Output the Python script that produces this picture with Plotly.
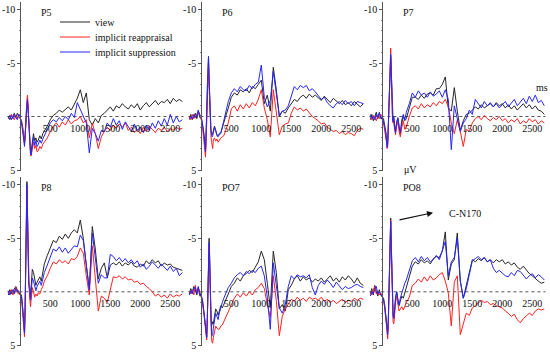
import plotly.graph_objects as go

# time points (ms)
T = [-200, -175, -150, -125, -100, -75, -50, -25, 0,
     20, 40, 60, 70, 80, 90, 100, 110, 120, 130, 140, 150, 160, 170, 180, 190, 200,
     220, 240, 260, 280, 300, 325, 350, 375, 400,
     450, 500, 550, 600, 650, 700, 750, 800, 850, 900,
     950, 1000, 1050, 1100, 1150, 1200, 1250, 1300, 1350, 1400,
     1450, 1500, 1550, 1600, 1650, 1700, 1750, 1800, 1850, 1900,
     1950, 2000, 2050, 2100, 2150, 2200, 2250, 2300, 2350, 2400,
     2450, 2500, 2550, 2600, 2650, 2700]

CONDITIONS = ["view", "implicit reappraisal", "implicit suppression"]
ELECTRODES = ["P5", "P6", "P7", "P8", "PO7", "PO8"]
X_TICKS = [500, 1000, 1500, 2000, 2500]
Y_TICKS = [-10, -5, 5]
Y_TICK_TEXT = ["-10", "-5", "5"]

# ---- P5 ----
P5_view = [0.2, -0.1, 0.3, 0.0, -0.3, 0.1, -0.3, 0.0, 0.2,
           0.4, 1.0, 2.0, 2.5, 1.8, 0.6, -0.5, -1.2, -1.5, -0.8, 0.6, 1.8, 2.7, 3.2, 3.3, 2.9, 2.3,
           1.6, 2.3, 2.0, 2.4, 2.2, 1.8, 2.1, 1.6, 1.4,
           0.9, 0.3, -0.1, -0.3, -0.6, -0.4, -0.7, -0.9, -0.6, -1.1,
           -1.7, -2.5, -1.3, -2.2, 0.3, 0.8, 0.2, 0.6, -0.1, -0.3,
           -0.6, -0.9, -0.5, -1.0, -0.8, -1.2, -0.9, -0.7, -1.1, -0.8,
           -1.2, -0.6, -1.0, -1.3, -0.9, -1.2, -1.5, -1.1, -1.4, -1.3,
           -1.6, -1.2, -1.7, -1.4, -1.6, -1.4]
P5_reapp = [0.1, 0.2, -0.2, 0.1, 0.3, -0.1, 0.2, -0.2, 0.1,
            0.5, 1.1, 2.0, 2.6, 2.0, 0.4, -0.8, -1.6, -2.0, -1.0, 0.8, 2.0, 3.0, 3.5, 3.7, 3.3, 2.8,
            2.4, 3.0, 2.7, 3.3, 3.2, 2.8, 3.0, 2.6, 2.4,
            2.0, 1.4, 0.9, 0.6, 1.0, 0.5, 0.8, 0.3, 0.7, 0.4,
            0.3, 0.0, 0.6, 0.3, 2.0, 0.6, 1.6, 3.0, 1.9, 1.4,
            1.0, 1.3, 0.8, 1.1, 0.7, 1.0, 0.6, 1.3, 1.0, 1.5,
            1.2, 1.6, 1.0, 1.4, 0.9, 1.2, 1.5, 1.1, 1.3, 1.0,
            1.4, 1.1, 1.3, 1.0, 1.2, 1.1]
P5_supp = [0.0, 0.3, -0.1, 0.2, -0.2, 0.1, 0.3, -0.2, 0.1,
           0.6, 1.3, 2.3, 2.8, 2.1, 0.7, -0.4, -1.1, -1.6, -0.7, 0.8, 2.0, 3.0, 3.5, 3.6, 3.1, 2.6,
           1.9, 2.7, 2.3, 2.8, 2.6, 2.2, 2.5, 2.1, 1.8,
           1.3, 0.6, 0.3, 0.5, 0.1, 0.4, 0.0, 0.3, -0.3, 0.1,
           -1.3, -0.7, -0.1, 0.6, 3.4, 1.1, 1.6, 2.3, 1.3, 1.4,
           0.6, 1.0, 0.2, 0.8, 0.4, 1.2, 0.5, 0.9, 1.4, 0.7,
           1.3, 1.0, 1.5, 0.8, 1.3, 0.6, 1.1, 0.4, 0.9, 0.2,
           0.8, -0.2, 0.6, 0.0, 0.5, 0.3]

# ---- P6 ----
P6_view = [0.2, -0.2, 0.3, 0.0, -0.3, 0.2, -0.5, -0.2, 0.2,
           0.8, 1.5, 2.5, 3.3, 2.0, -0.5, -2.8, -4.6, -5.6, -3.5, -0.8, 0.6, 1.3, 1.5, 1.7, 1.6, 1.2,
           0.9, 1.3, 1.7, 1.8, 1.6, 1.5, 1.1, 0.5, 0.1,
           -0.8, -1.8, -2.2, -2.0, -2.5, -2.3, -2.6, -2.2, -2.8, -2.6,
           -3.0, -3.4, -1.2, -2.0, -0.5, -4.6, -2.5, 0.0, -0.5, -0.3,
           -0.8, -1.2, -1.6, -1.4, -1.8, -2.0, -1.7, -2.1, -1.8, -2.0,
           -1.7, -1.5, -1.9, -1.6, -1.3, -1.7, -1.4, -1.2, -1.5, -1.1,
           -1.3, -1.0, -1.4, -1.1, -0.9, -1.2]
P6_reapp = [0.0, 0.3, -0.2, 0.2, 0.0, -0.2, -0.4, 0.0, 0.3,
            1.0, 1.9, 3.0, 3.8, 2.4, 0.0, -2.4, -4.2, -5.0, -3.0, -0.5, 1.0, 1.8, 2.3, 2.8, 3.0, 2.2,
            2.0, 2.3, 2.1, 2.4, 2.2, 2.0, 1.9, 1.8, 1.4,
            0.6, -0.7, -1.0, -0.5, -1.1, -0.7, -1.2, -0.8, -1.3, -1.0,
            -1.6, -2.5, -0.8, 0.3, 1.9, -2.5, -0.6, 1.7, 0.9, 0.7,
            0.6, -0.3, -0.9, -0.6, -0.8, -0.5, -0.7, -0.3, 0.0, 0.2,
            0.4, 0.7, 0.6, 1.0, 1.2, 1.4, 1.3, 1.6, 1.4, 1.7,
            1.5, 1.6, 1.8, 1.3, 1.1, 1.2]
P6_supp = [0.3, 0.0, 0.2, -0.2, 0.1, -0.1, -0.6, 0.1, 0.0,
           0.7, 1.4, 2.6, 3.3, 1.8, -0.6, -3.0, -4.8, -5.6, -3.6, -1.0, 0.5, 1.2, 1.6, 1.9, 1.8, 1.4,
           1.0, 1.3, 1.8, 1.9, 1.7, 1.6, 1.0, 0.3, -0.1,
           -1.4, -2.2, -2.6, -2.3, -2.8, -2.5, -2.4, -2.9, -2.6, -3.0,
           -3.2, -4.8, -1.8, -0.9, -1.5, -4.2, -2.0, -0.1, -0.5, -0.6,
           -1.0, -1.8, -2.8, -2.5, -2.9, -2.7, -2.9, -2.4, -2.6, -2.3,
           -2.0, -1.6, -1.8, -1.3, -1.0, -0.8, -1.2, -1.4, -1.1, -1.5,
           -1.2, -1.4, -1.0, -1.4, -1.3, -1.2]

# ---- P7 ----
P7_view = [0.3, -0.2, 0.4, 0.0, -0.4, 0.2, -0.3, 0.1, 0.3,
           0.2, 0.8, 1.5, 2.2, 2.6, 2.4, 1.0, -1.0, -3.2, -4.8, -5.6, -4.0, -1.5, 0.0, 0.4, 0.0, 0.6,
           1.4, 0.6, 0.2, 1.0, 1.6, 0.6, 0.0, 0.4, 0.2,
           -0.8, -1.8, -1.8, -1.6, -2.0, -1.7, -2.1, -2.2, -2.0, -2.6,
           -2.6, -3.0, -3.7, -0.8, -0.5, -2.7, -0.5, 1.3, 0.4, -0.2,
           -0.3, -0.6, -0.9, -0.7, -1.1, -0.8, -1.0, -1.2, -0.9, -1.3,
           -1.0, -1.2, -0.8, -1.1, -0.7, -1.0, -0.6, -0.9, -1.2, -0.8,
           -1.1, -0.7, -1.0, -0.6, -0.5, -0.2]
P7_reapp = [0.1, 0.3, -0.1, 0.2, 0.4, -0.1, 0.2, -0.2, 0.1,
            0.6, 1.2, 1.8, 2.4, 3.0, 2.8, 1.2, -1.0, -3.5, -5.2, -6.4, -4.6, -1.6, 0.3, 0.6, 0.3, 1.0,
            1.7, 0.9, 0.5, 1.4, 1.9, 1.0, 0.4, 1.2, 1.0,
            0.0, -0.8, -1.0, -0.7, -1.2, -0.8, -1.1, -0.9, -1.3, -1.0,
            -1.4, -1.2, -1.6, -0.9, 0.6, 1.6, 0.3, 1.4, 2.8, 1.2,
            1.4, 0.6, 0.2, 0.0, 0.3, -0.1, 0.2, 0.4, 0.1, 0.3,
            0.0, 0.4, 0.2, 0.6, 0.3, 0.5, 0.2, 0.7, 0.4, 0.6,
            0.2, 0.5, 0.3, 0.7, 0.4, 0.6]
P7_supp = [-0.2, 0.2, 0.0, 0.3, -0.2, 0.1, -0.4, 0.2, 0.0,
           0.4, 1.0, 1.6, 2.3, 2.9, 2.6, 1.0, -1.0, -3.2, -4.8, -5.8, -4.2, -1.4, 0.2, 0.5, 0.1, 0.8,
           1.5, 0.5, 0.1, 0.9, 1.5, 0.3, -0.2, 0.3, -0.4,
           -1.2, -2.2, -1.8, -2.4, -2.0, -2.2, -1.8, -2.3, -1.9, -2.1,
           -2.4, -1.8, -2.5, -1.6, 3.1, -1.0, 0.2, 1.4, 0.6, 0.2,
           -0.6, -0.2, -1.6, -1.2, -0.8, -1.4, -1.0, -1.3, -0.9, -1.2,
           -0.8, -1.1, -1.4, -0.9, -1.2, -1.6, -1.0, -1.4, -1.7, -1.2,
           -1.9, -1.4, -2.0, -1.3, -1.5, -1.0]

# ---- P8 ----
P8_view = [0.3, -0.2, 0.2, 0.0, -0.3, -0.5, -0.2, 0.1, 0.2,
           0.3, 1.5, 3.0, 3.7, 1.5, -3.0, -7.5, -10.3, -7.5, -3.5, -1.0, -0.6, -0.4, 0.5, -0.5, -1.5, -2.1,
           -1.8, -1.0, -0.6, -0.9, -1.2, -1.4, -1.0, -1.8, -2.6,
           -3.4, -4.2, -4.8, -4.6, -5.2, -4.9, -5.4, -5.0, -5.5, -5.8,
           -5.5, -6.7, -5.0, -2.5, -0.2, -6.1, -4.0, -1.2, -2.2, -2.7,
           -1.3, -2.5, -2.7, -2.5, -2.8, -2.4, -2.7, -2.5, -2.8, -2.4,
           -2.3, -2.6, -2.4, -2.9, -2.6, -3.0, -2.7, -2.9, -2.4, -2.7,
           -2.5, -2.6, -2.3, -2.2, -2.1, -2.0]
P8_reapp = [0.2, 0.0, -0.2, 0.3, 0.0, -0.4, 0.1, 0.2, 0.3,
            0.6, 1.8, 3.4, 4.2, 2.0, -2.5, -7.0, -9.7, -7.0, -3.0, -0.5, 0.0, 0.8, 1.4, 0.8, 0.0, -0.4,
            0.0, 0.5, 0.2, 0.4, 0.1, 0.2, -0.2, -0.5, -1.0,
            -1.5, -2.2, -2.8, -2.6, -3.0, -2.7, -2.9, -2.6, -3.1, -3.0,
            -3.3, -4.1, -3.6, -1.5, 0.3, -4.3, -1.0, 1.8, 0.4, 0.6,
            1.0, -0.2, -1.4, -1.3, -1.5, -1.2, -1.4, -1.1, -1.2, -0.9,
            -1.0, -0.7, -0.8, -0.5, -0.3, 0.0, 0.4, 0.2, 0.5, 0.3,
            0.6, 0.2, 0.5, 0.3, 0.4, 0.2]
P8_supp = [-0.1, 0.3, 0.0, -0.2, 0.2, -0.3, 0.0, -0.1, 0.1,
           0.5, 1.6, 3.2, 3.9, 1.7, -2.8, -7.3, -10.0, -7.2, -3.2, -0.7, -0.3, 0.0, 0.8, 0.2, -0.8, -1.3,
           -1.0, -0.4, -0.1, -0.5, -0.8, -1.0, -0.6, -1.2, -1.8,
           -2.5, -3.3, -4.0, -3.8, -4.2, -3.7, -4.1, -3.6, -4.0, -4.3,
           -4.2, -5.3, -4.8, -2.2, -0.2, -5.5, -3.2, -0.8, -1.6, -1.3,
           -1.3, -3.5, -3.3, -2.9, -3.2, -2.8, -3.1, -2.7, -3.0, -2.6,
           -2.9, -2.3, -2.6, -2.1, -2.4, -2.8, -2.5, -2.2, -2.6, -2.3,
           -2.0, -2.4, -1.9, -2.2, -1.5, -1.8]

# ---- PO7 ----
PO7_view = [0.2, -0.3, 0.1, -0.5, -0.2, 0.3, -0.4, 0.2, 0.5,
            0.8, 1.6, 2.6, 3.2, 3.8, 4.2, 2.5, -1.0, -3.8, -5.0, -3.2, 0.5, 2.5, 3.2, 3.0, 2.8, 3.0,
            2.4, 1.6, 1.8, 2.2, 1.8, 1.3, 1.5, 1.2, 0.8,
            0.2, -0.5, -0.8, -1.3, -1.0, -1.5, -1.7, -2.0, -1.8, -2.3,
            -2.8, -3.8, -3.0, -0.8, 1.5, -3.8, -1.8, 1.6, 1.2, 1.8,
            -0.2, -0.6, -1.2, -1.5, -1.0, -1.4, -1.1, -1.3, -0.9, -1.2,
            -1.0, -1.3, -0.9, -1.2, -1.5, -1.0, -1.3, -0.9, -1.4, -1.1,
            -1.5, -1.2, -0.8, -1.3, -0.8, -0.6]
PO7_reapp = [0.0, 0.2, -0.2, 0.3, -0.6, 0.1, -0.2, 0.3, 0.4,
             1.0, 1.9, 2.9, 3.5, 4.1, 4.5, 2.8, -0.5, -3.0, -4.3, -2.5, 1.0, 3.5, 4.4, 4.7, 4.8, 4.3,
             3.6, 3.2, 3.4, 3.5, 3.5, 3.2, 3.1, 2.8, 2.4,
             1.8, 1.2, 0.6, 0.2, 0.5, 0.1, 0.4, 0.0, 0.3, -0.2,
             -0.4, -0.8, -0.3, 1.2, 2.4, -1.5, 0.8, 4.1, 2.3, 1.6,
             1.2, 0.7, 0.9, 0.5, 0.8, 0.6, 0.9, 0.5, 0.7, 0.6,
             0.8, 0.5, 0.9, 0.7, 1.0, 0.8, 1.1, 0.9, 0.7, 1.0,
             0.8, 0.9, 0.6, 0.8, 0.6, 0.7]
PO7_supp = [0.3, -0.1, 0.2, -0.3, -0.4, 0.2, -0.5, 0.4, 0.3,
            0.8, 1.7, 2.7, 3.4, 3.9, 4.3, 2.5, -0.8, -3.5, -4.6, -2.8, 0.8, 3.0, 3.8, 4.1, 4.0, 3.4,
            2.4, 2.0, 2.3, 2.6, 2.0, 1.4, 1.0, 0.6, 0.3,
            -0.4, -0.8, -1.3, -1.6, -1.8, -1.5, -1.9, -1.7, -2.0, -1.8,
            -2.2, -2.4, -1.5, 0.5, 3.5, -2.7, -0.5, 1.5, 2.0, 1.2,
            -0.5, -1.5, -1.2, -1.6, -1.4, -1.5, -1.3, -1.6, -0.4, 0.3,
            -0.6, -1.0, -0.7, -1.1, -0.8, -0.4, -0.9, -0.6, -0.2, -0.5,
            -0.3, -0.4, -0.6, -0.7, -0.5, -0.4]

# ---- PO8 ----
PO8_view = [0.2, -0.3, 0.3, -0.6, 0.0, 0.4, -0.2, 0.3, 0.5,
            0.6, 1.2, 2.0, 2.8, 3.4, 3.7, 2.6, 0.0, -3.2, -5.8, -6.9, -4.5, -1.0, 1.2, 2.2, 2.4, 2.0,
            0.6, 0.0, 0.8, 1.3, 0.9, 0.4, 0.6, 0.1, -0.5,
            -1.3, -2.4, -2.8, -2.6, -3.0, -2.7, -2.9, -2.6, -3.1, -3.3,
            -3.2, -3.8, -5.6, -1.1, -2.6, -3.0, -5.5, -1.0, 0.6, -0.6,
            -1.8, -3.0, -2.8, -3.1, -2.9, -3.2, -2.8, -3.0, -2.7, -3.0,
            -2.8, -3.0, -2.6, -2.8, -2.5, -2.7, -2.3, -2.1, -2.4, -2.0,
            -1.7, -1.5, -1.2, -1.0, -0.8, -0.9]
PO8_reapp = [0.0, 0.3, -0.2, -0.5, 0.2, 0.0, 0.3, 0.1, 0.4,
             0.8, 1.5, 2.4, 3.2, 3.9, 4.4, 3.0, 0.2, -3.0, -5.5, -6.7, -4.0, -0.5, 1.8, 2.8, 3.0, 2.6,
             1.0, 0.4, 1.2, 1.8, 1.6, 1.4, 1.7, 1.3, 1.0,
             0.5, -0.6, -0.8, -1.2, -0.9, -1.4, -1.0, -1.5, -1.1, -1.3,
             -1.6, -1.8, -1.0, 0.1, 3.2, -0.9, -1.5, 4.0, 3.0, 2.0,
             2.2, 1.5, 1.3, 1.0, 0.8, 1.0, 0.9, 1.2, 1.1, 1.3,
             1.4, 1.5, 1.8, 2.0, 2.3, 2.1, 2.6, 2.9, 2.5, 2.2,
             2.0, 2.2, 1.8, 1.6, 1.7, 1.6]
PO8_supp = [0.4, 0.0, 0.2, -0.3, -0.5, 0.2, 0.0, 0.3, 0.4,
            0.7, 1.4, 2.3, 3.0, 3.7, 4.0, 2.8, 0.0, -3.2, -5.6, -6.6, -4.2, -0.8, 1.4, 2.3, 2.5, 2.1,
            0.6, 0.0, 0.7, 1.2, 0.6, 0.1, -0.3, -0.8, -1.1,
            -2.0, -2.9, -3.2, -2.8, -3.3, -2.9, -3.2, -2.8, -3.0, -3.4,
            -3.0, -3.8, -4.7, -1.5, -2.8, -3.2, -5.0, -1.0, 0.6, -0.3,
            -1.5, -2.9, -3.1, -3.3, -3.0, -3.2, -2.8, -3.0, -2.2, -1.8,
            -2.0, -1.7, -1.5, -1.4, -1.8, -1.5, -2.0, -1.9, -1.6, -1.2,
            -1.5, -1.7, -1.3, -1.6, -1.4, -1.1]

PANELS = [
    (P5_view, P5_reapp, P5_supp),
    (P6_view, P6_reapp, P6_supp),
    (P7_view, P7_reapp, P7_supp),
    (P8_view, P8_reapp, P8_supp),
    (PO7_view, PO7_reapp, PO7_supp),
    (PO8_view, PO8_reapp, PO8_supp),
]

# ---- layout constants (pixels) ----
W, H = 550, 353
PXMS = 0.06          # px per ms
XR = [-230, 2750]
YR = [5.1, -10.7]    # reversed: negative up
PXU = 10.7           # px per microvolt
COLX0 = [20.3, 201.3, 382.3]   # pixel x of 0 ms per column
ROWZ = [116.5, 291.8]          # pixel y of 0 uV per row
COLORS = ["#262626", "#ff2020", "#2525ff"]
LEGEND_Y = [22, 37, 52]
LEGEND_IDS = ["legend", "legend2", "legend3"]
FONT = "Liberation Serif, Times New Roman, serif"

fig = go.Figure()
lay = {}
shapes = []
annots = []

for i, series in enumerate(PANELS):
    row, col = divmod(i, 3)
    k = i + 1
    xn = "x" if k == 1 else f"x{k}"
    yn = "y" if k == 1 else f"y{k}"
    xk = "xaxis" if k == 1 else f"xaxis{k}"
    yk = "yaxis" if k == 1 else f"yaxis{k}"
    x0 = COLX0[col]
    z = ROWZ[row]
    xl = x0 + XR[0] * PXMS
    xr = x0 + XR[1] * PXMS
    yt = z + YR[1] * PXU
    yb = z + YR[0] * PXU
    lay[xk] = dict(domain=[xl / W, xr / W], range=XR, anchor="free", position=1 - z / H,
                   automargin=False, showline=False, showgrid=False, zeroline=False,
                   ticks="outside", ticklen=2, tickcolor="rgba(0,0,0,0)",
                   tickvals=X_TICKS, ticktext=[str(v) for v in X_TICKS],
                   tickfont=dict(family=FONT, size=10, color="#111"), fixedrange=True)
    lay[yk] = dict(domain=[1 - yb / H, 1 - yt / H], range=YR, anchor="free", position=x0 / W,
                   automargin=False, showline=True, linecolor="#555", linewidth=1,
                   showgrid=False, zeroline=False,
                   ticks="outside", ticklen=3, tickcolor="#555", tickvals=Y_TICKS, ticktext=Y_TICK_TEXT,
                   minor=dict(ticks="outside", ticklen=1.5, dtick=1, tickcolor="#888"),
                   tickfont=dict(family=FONT, size=10, color="#111"), fixedrange=True)
    shapes.append(dict(type="line", xref=xn, yref=yn, x0=-215, x1=2720, y0=0, y1=0,
                       line=dict(color="#555", width=1, dash="dot"), layer="below"))
    for c, vals in enumerate(series):
        fig.add_trace(go.Scatter(x=T, y=vals, xaxis=xn, yaxis=yn, mode="lines",
                                 line=dict(color=COLORS[c], width=1),
                                 name=CONDITIONS[c], showlegend=(i == 0),
                                 legend=LEGEND_IDS[c], hoverinfo="skip"))
    ly = 13 if row == 0 else 187
    annots.append(dict(text=ELECTRODES[i], xref="paper", yref="paper",
                       x=(x0 + 19) / W, y=1 - ly / H, xanchor="left", yanchor="middle",
                       showarrow=False, font=dict(family=FONT, size=10, color="#111")))

annots.append(dict(text="ms", xref="paper", yref="paper", x=542 / W, y=1 - 87 / H,
                   xanchor="center", yanchor="middle", showarrow=False,
                   font=dict(family=FONT, size=10, color="#111")))
annots.append(dict(text="\u03bcV", xref="paper", yref="paper", x=410 / W, y=1 - 169 / H,
                   xanchor="center", yanchor="middle", showarrow=False,
                   font=dict(family=FONT, size=10, color="#111")))
annots.append(dict(text="C-N170", xref="paper", yref="paper", x=447 / W, y=1 - 213 / H,
                   xanchor="left", yanchor="middle", showarrow=False,
                   font=dict(family=FONT, size=10, color="#111")))
annots.append(dict(text="", xref="paper", yref="paper", x=433 / W, y=1 - 212.7 / H,
                   ax=-35, ay=7.5, showarrow=True, arrowhead=2, arrowsize=1,
                   arrowwidth=1.2, arrowcolor="#111"))

for lid, yc in zip(LEGEND_IDS, LEGEND_Y):
    lay[lid] = dict(x=55 / W, y=1 - yc / H, xanchor="left", yanchor="middle",
                    bgcolor="rgba(0,0,0,0)", borderwidth=0,
                    font=dict(family=FONT, size=10, color="#111"), itemwidth=30)

fig.update_layout(
    width=W, height=H, margin=dict(l=0, r=0, t=0, b=0, autoexpand=False),
    paper_bgcolor="white", plot_bgcolor="rgba(0,0,0,0)",
    shapes=shapes, annotations=annots,
    **lay,
)

fig.write_html("out.html", config={"displayModeBar": False, "staticPlot": True},
               post_script="document.body.style.margin='0px';")
